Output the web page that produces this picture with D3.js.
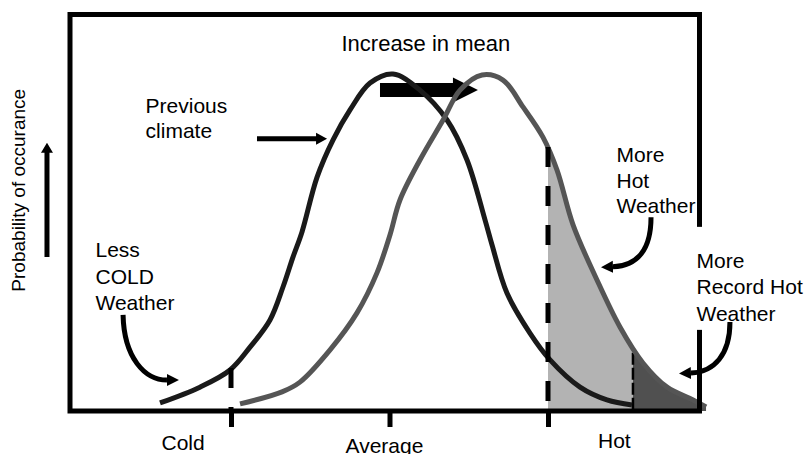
<!DOCTYPE html>
<html>
<head>
<meta charset="utf-8">
<script src="https://cdn.jsdelivr.net/npm/d3@7"></script>
<style>
  html, body { margin: 0; padding: 0; background: #fff; }
  svg { display: block; }
</style>
</head>
<body>
<script>
// ---- Data -------------------------------------------------------------
// Temperature axis in standard deviations from the previous mean
const tickValues = [-1, 0, 1];
const tickLabels = ["Cold", "Average", "Hot"];

// Previous climate: temperature vs. relative probability
const previousX = [-1.448, -1.196, -1.006, -0.880, -0.754, -0.672, -0.609, -0.552, -0.457, -0.356, -0.249, -0.123, 0.022, 0.192, 0.363, 0.489, 0.603, 0.647, 0.741, 0.886, 1.013, 1.202, 1.372, 1.530];
const previousY = [0.024, 0.071, 0.122, 0.190, 0.271, 0.369, 0.458, 0.533, 0.696, 0.807, 0.896, 0.976, 1.003, 0.955, 0.866, 0.747, 0.568, 0.494, 0.351, 0.232, 0.152, 0.071, 0.033, 0.018];

// Climate after the increase in mean
const shiftedX = [-0.943, -0.678, -0.565, -0.375, -0.205, -0.079, 0.003, 0.066, 0.192, 0.338, 0.445, 0.584, 0.716, 0.842, 0.968, 1.057, 1.158, 1.309, 1.454, 1.599, 1.751, 1.915, 1.997];
const shiftedY = [0.021, 0.057, 0.086, 0.182, 0.292, 0.411, 0.524, 0.628, 0.747, 0.866, 0.955, 1.000, 0.985, 0.905, 0.815, 0.717, 0.554, 0.390, 0.250, 0.143, 0.071, 0.033, 0.012];

// Thresholds: cold, hot and record-hot, with where each dashed line stops
const coldThreshold = -1.0, coldTop = 0.128;
const hotThreshold = 1.0, hotTop = 0.786;
const recordThreshold = 1.536, recordTop = 0.173;

// ---- Layout -----------------------------------------------------------
const W = 812, H = 454;
const frame = { left: 70, right: 699.5, top: 14.5, bottom: 411 };
const FONT = "'Liberation Sans', Arial, Helvetica, sans-serif";

const x = d3.scaleLinear().domain([-1, 1]).range([231, 548]);
const y = d3.scaleLinear().domain([0, 1]).range([frame.bottom, 75]);

const svg = d3.select("body").append("svg")
  .attr("width", W).attr("height", H)
  .style("font-family", FONT);

const prevPts = previousX.map((v, i) => [v, previousY[i]]);
const shiftPts = shiftedX.map((v, i) => [v, shiftedY[i]]);

const curve = d3.curveCatmullRom.alpha(0.5);
const line = d3.line().x(d => x(d[0])).y(d => y(d[1])).curve(curve);
const area = d3.area().x(d => x(d[0])).y0(y(0)).y1(d => y(d[1])).curve(curve);

const defs = svg.append("defs");
defs.append("clipPath").attr("id", "clip-hot")
  .append("rect").attr("x", x(hotThreshold)).attr("y", 0)
  .attr("width", W - x(hotThreshold)).attr("height", y(0));
defs.append("clipPath").attr("id", "clip-record")
  .append("rect").attr("x", x(recordThreshold)).attr("y", 0)
  .attr("width", W - x(recordThreshold)).attr("height", y(0));

defs.append("marker").attr("id", "head")
  .attr("markerUnits", "userSpaceOnUse")
  .attr("viewBox", "0 -7 13 14")
  .attr("markerWidth", 13).attr("markerHeight", 14)
  .attr("refX", 0).attr("refY", 0)
  .attr("orient", "auto")
  .append("path").attr("d", "M0,-6L12,0L0,6Z").attr("fill", "#000");

// Filled tails of the shifted distribution
svg.append("path").datum(shiftPts)
  .attr("d", area).attr("fill", "#b3b3b3")
  .attr("clip-path", "url(#clip-hot)");
svg.append("path").datum(shiftPts)
  .attr("d", area).attr("fill", "#505050")
  .attr("clip-path", "url(#clip-record)");

// Record-hot boundary
svg.append("line")
  .attr("x1", x(recordThreshold)).attr("x2", x(recordThreshold))
  .attr("y1", y(recordTop)).attr("y2", y(0))
  .attr("stroke", "#000").attr("stroke-width", 2.5)
  .attr("stroke-dasharray", "12,3");

// Straight block arrows
function blockArrow(p0, p1, shaft, headLen, headW) {
  const dx = p1[0] - p0[0], dy = p1[1] - p0[1];
  const L = Math.hypot(dx, dy), ux = dx / L, uy = dy / L, nx = -uy, ny = ux;
  const bx = p1[0] - ux * headLen, by = p1[1] - uy * headLen;
  const pts = [
    [p0[0] + nx * shaft / 2, p0[1] + ny * shaft / 2],
    [bx + nx * shaft / 2, by + ny * shaft / 2],
    [bx + nx * headW / 2, by + ny * headW / 2],
    p1,
    [bx - nx * headW / 2, by - ny * headW / 2],
    [bx - nx * shaft / 2, by - ny * shaft / 2],
    [p0[0] - nx * shaft / 2, p0[1] - ny * shaft / 2]
  ];
  return "M" + pts.map(p => p.join(",")).join("L") + "Z";
}
const P = (a, b) => [x(a), y(b)];

// "Increase in mean" arrow (sits beneath the shifted curve)
svg.append("path")
  .attr("d", blockArrow(P(-0.06, 0.955), P(0.558, 0.955), 14, 25, 25))
  .attr("fill", "#000");

// Distributions
svg.append("path").datum(prevPts)
  .attr("d", line).attr("fill", "none")
  .attr("stroke", "#1a1a1a").attr("stroke-width", 5);
svg.append("path").datum(shiftPts)
  .attr("d", line).attr("fill", "none")
  .attr("stroke", "#555").attr("stroke-width", 5);

// Dashed threshold lines
[[coldThreshold, coldTop], [hotThreshold, hotTop]].forEach(([t, top]) => {
  svg.append("line")
    .attr("x1", x(t)).attr("x2", x(t))
    .attr("y1", y(top)).attr("y2", y(0))
    .attr("stroke", "#000").attr("stroke-width", 5)
    .attr("stroke-dasharray", "20,19");
});

// Multi-line labels
function label(lines, at, lh, size) {
  const t = svg.append("text")
    .attr("x", x(at[0])).attr("y", y(at[1]))
    .attr("font-size", size || 21).attr("fill", "#000");
  lines.forEach((s, i) => {
    t.append("tspan").attr("x", x(at[0])).attr("dy", i === 0 ? 0 : lh).text(s);
  });
  return t;
}

label(["More", "Hot", "Weather"], [1.432, 0.741], 25.5);

// Plot frame
svg.append("rect")
  .attr("x", frame.left).attr("y", frame.top)
  .attr("width", frame.right - frame.left)
  .attr("height", frame.bottom - frame.top)
  .attr("fill", "none").attr("stroke", "#000").attr("stroke-width", 5);

// Temperature axis ticks and names
const labelDx = [-70, -44.5, 49.5];
const labelDy = [39, 41.5, 37];
const axis = d3.axisBottom(x)
  .tickValues(tickValues)
  .tickSize(16)
  .tickFormat((d, i) => tickLabels[i]);
const gx = svg.append("g")
  .attr("transform", `translate(0,${frame.bottom})`)
  .call(axis);
gx.select(".domain").remove();
gx.selectAll(".tick line").attr("stroke", "#000").attr("stroke-width", 5);
gx.selectAll(".tick text")
  .attr("font-family", FONT).attr("font-size", 21).attr("fill", "#000")
  .attr("text-anchor", "start")
  .attr("dy", 0)
  .attr("x", (d, i) => labelDx[i])
  .attr("y", (d, i) => labelDy[i]);
gx.attr("font-family", FONT).attr("font-size", 21);

// Other labels
label(["Increase in mean"], [-0.303, 1.071], 0, 22);
label(["Previous", "climate"], [-1.539, 0.887], 25);
label(["Less", "COLD", "Weather"], [-1.855, 0.458], 26.5);

// Record-hot label sits in a white box over the frame
const rec = label(["More", "Record Hot", "Weather"], [1.937, 0.426], 26.5);
const rb = rec.node().getBBox();
svg.insert("rect", () => rec.node())
  .attr("x", rb.x - 6).attr("y", y(0.426) - 41)
  .attr("width", rb.width + 12)
  .attr("height", 41 + 2 * 26.5 + 9)
  .attr("fill", "#fff");

// Straight arrows
svg.append("path")
  .attr("d", blockArrow(P(-0.836, 0.810), P(-0.394, 0.810), 5, 11, 12))
  .attr("fill", "#000");

// Y-axis title and arrow
const yMid = (frame.top + frame.bottom) / 2 - 22.5;
svg.append("text")
  .attr("transform", `translate(25,${yMid}) rotate(-90)`)
  .attr("text-anchor", "middle")
  .attr("font-size", 19).attr("fill", "#000")
  .text("Probability of occurance");
svg.append("path")
  .attr("d", blockArrow(P(-2.161, 0.458), P(-2.161, 0.798), 5, 10, 12))
  .attr("fill", "#000");

// Curved pointer arrows: start, control 1, control 2, end
const pointers = [
  [[-1.681, 0.286], [-1.675, 0.158], [-1.543, 0.092], [-1.404, 0.092]],
  [[1.650, 0.577], [1.650, 0.479], [1.562, 0.432], [1.410, 0.429]],
  [[2.148, 0.265], [2.148, 0.167], [2.047, 0.116], [1.902, 0.113]]
];
pointers.forEach(c => {
  const p = d3.path();
  const q = c.map(d => P(d[0], d[1]));
  p.moveTo(q[0][0], q[0][1]);
  p.bezierCurveTo(q[1][0], q[1][1], q[2][0], q[2][1], q[3][0], q[3][1]);
  svg.append("path").attr("d", p.toString())
    .attr("fill", "none").attr("stroke", "#000").attr("stroke-width", 5)
    .attr("marker-end", "url(#head)");
});
</script>
</body>
</html>
